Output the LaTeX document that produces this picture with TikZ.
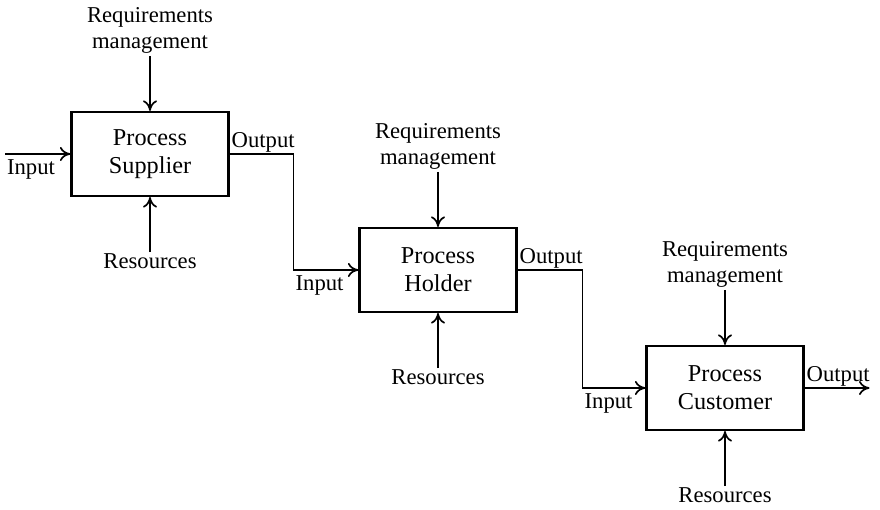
\documentclass[tikz,border=0pt]{standalone}
\usepackage{fontspec}
\setmainfont{Liberation Serif}
\usetikzlibrary{positioning,arrows.meta}

\begin{document}
\begin{tikzpicture}[
    process/.style={draw, line width=1.2pt, minimum width=3.14cm, minimum height=1.68cm,
      align=center, font=\fontsize{13.8}{15.9}\selectfont},
    lbl/.style={align=center, inner sep=1pt, font=\fontsize{12.9}{15.3}\selectfont},
    flow/.style={line width=0.95pt, -{To[length=6pt,width=8pt]}}
  ]
  \useasboundingbox (0,0) rectangle (17.6,10.2);

  % Process 1: Supplier
  \node[process] (p1) at (3.0,7.12) {Process\\Supplier};
  \node[lbl, above=1.1cm of p1] (req1) {Requirements\\management};
  \node[lbl, below=1.1cm of p1] (res1) {Resources};
  \coordinate (src) at (0.1,7.12);
  \node[lbl, below right=2pt and 0pt of src] (in1) {Input};
  \draw[flow] (src) -- (p1.west);
  \draw[flow] (req1.south) -- (p1.north);
  \draw[flow] (res1.north) -- (p1.south);

  % Process 2: Holder
  \node[process] (p2) at (8.76,4.80) {Process\\Holder};
  \node[lbl, above=1.1cm of p2] (req2) {Requirements\\management};
  \node[lbl, below=1.1cm of p2] (res2) {Resources};
  \draw[flow] (req2.south) -- (p2.north);
  \draw[flow] (res2.north) -- (p2.south);

  % Process 3: Customer
  \node[process] (p3) at (14.5,2.44) {Process\\Customer};
  \node[lbl, above=1.1cm of p3] (req3) {Requirements\\management};
  \node[lbl, below=1.1cm of p3] (res3) {Resources};
  \draw[flow] (req3.south) -- (p3.north);
  \draw[flow] (res3.north) -- (p3.south);

  % Supplier -> Holder
  \path (p1.east) ++(1.28,0) coordinate (k1);
  \node[lbl, anchor=south west] (out1) at (p1.east) {Output};
  \node[lbl, below right=2pt and 0pt of k1 |- p2.west] (in2) {Input};
  \draw[flow] (p1.east) -- (k1) |- (p2.west);

  % Holder -> Customer
  \path (p2.east) ++(1.3,0) coordinate (k2);
  \node[lbl, anchor=south west] (out2) at (p2.east) {Output};
  \node[lbl, below right=2pt and 0pt of k2 |- p3.west] (in3) {Input};
  \draw[flow] (p2.east) -- (k2) |- (p3.west);

  % Customer output
  \path (p3.east) ++(1.3,0) coordinate (snk);
  \node[lbl, anchor=south west] (out3) at (p3.east) {Output};
  \draw[flow] (p3.east) -- (snk);
\end{tikzpicture}
\end{document}
